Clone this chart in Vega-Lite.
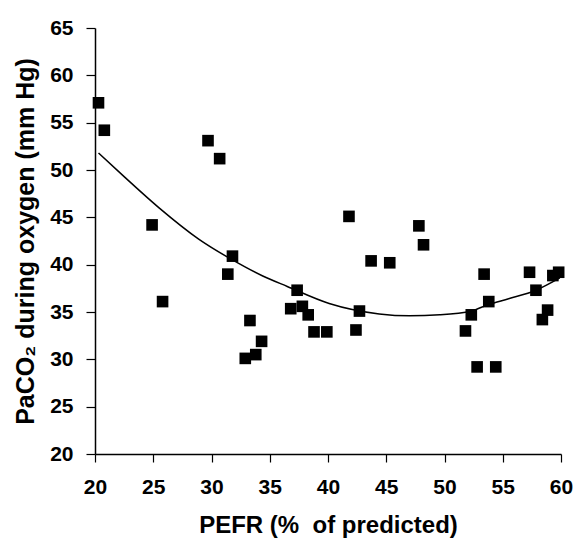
{
  "$schema": "https://vega.github.io/schema/vega-lite/v6.json",
  "width": 466,
  "height": 426,
  "autosize": {"type": "none"},
  "padding": {"left": 95, "top": 28, "right": 16, "bottom": 94},
  "background": "white",
  "config": {
    "view": {"stroke": null},
    "font": "Liberation Sans",
    "axis": {
      "grid": false,
      "domainColor": "black",
      "domainWidth": 1.5,
      "tickColor": "black",
      "tickWidth": 1.2,
      "labelColor": "black",
      "titleColor": "black",
      "labelFont": "Liberation Sans",
      "titleFont": "Liberation Sans",
      "labelFontWeight": "bold",
      "titleFontWeight": "bold",
      "labelFontSize": 21,
      "titleFontSize": 24,
      "labelFlush": false
    }
  },
  "datasets": {
    "points": [
      {"pefr": 20.3, "paco2": 57.1},
      {"pefr": 20.8, "paco2": 54.2},
      {"pefr": 29.7, "paco2": 53.1},
      {"pefr": 30.7, "paco2": 51.2},
      {"pefr": 24.9, "paco2": 44.2},
      {"pefr": 31.8, "paco2": 40.9},
      {"pefr": 31.4, "paco2": 39.0},
      {"pefr": 25.8, "paco2": 36.1},
      {"pefr": 33.3, "paco2": 34.1},
      {"pefr": 34.3, "paco2": 31.9},
      {"pefr": 33.8, "paco2": 30.5},
      {"pefr": 32.9, "paco2": 30.1},
      {"pefr": 41.8, "paco2": 45.1},
      {"pefr": 47.8, "paco2": 44.1},
      {"pefr": 48.2, "paco2": 42.1},
      {"pefr": 43.7, "paco2": 40.4},
      {"pefr": 45.3, "paco2": 40.2},
      {"pefr": 37.35, "paco2": 37.3},
      {"pefr": 36.8, "paco2": 35.35},
      {"pefr": 37.8, "paco2": 35.6},
      {"pefr": 38.3, "paco2": 34.7},
      {"pefr": 42.7, "paco2": 35.1},
      {"pefr": 38.8, "paco2": 32.9},
      {"pefr": 39.9, "paco2": 32.9},
      {"pefr": 42.4, "paco2": 33.1},
      {"pefr": 53.4, "paco2": 39.0},
      {"pefr": 57.3, "paco2": 39.2},
      {"pefr": 59.3, "paco2": 38.85},
      {"pefr": 59.8, "paco2": 39.2},
      {"pefr": 53.8, "paco2": 36.1},
      {"pefr": 57.85, "paco2": 37.3},
      {"pefr": 52.3, "paco2": 34.7},
      {"pefr": 58.85, "paco2": 35.2},
      {"pefr": 58.4, "paco2": 34.2},
      {"pefr": 51.8, "paco2": 33.0},
      {"pefr": 52.8, "paco2": 29.2},
      {"pefr": 54.4, "paco2": 29.2}
    ],
    "curve": [
      {"pefr": 20.3, "paco2": 51.8},
      {"pefr": 22.5, "paco2": 49.3},
      {"pefr": 25.5, "paco2": 46.0},
      {"pefr": 28.9, "paco2": 42.7},
      {"pefr": 31.8, "paco2": 40.5},
      {"pefr": 34.4, "paco2": 38.8},
      {"pefr": 36.5, "paco2": 37.7},
      {"pefr": 40.1, "paco2": 35.9},
      {"pefr": 44.4, "paco2": 34.8},
      {"pefr": 47.0, "paco2": 34.6},
      {"pefr": 49.6, "paco2": 34.7},
      {"pefr": 52.3, "paco2": 35.1},
      {"pefr": 53.8, "paco2": 35.8},
      {"pefr": 55.5, "paco2": 36.4},
      {"pefr": 57.85, "paco2": 37.3},
      {"pefr": 59.9, "paco2": 38.6}
    ]
  },
  "layer": [
    {
      "data": {"name": "curve"},
      "mark": {"type": "line", "color": "black", "strokeWidth": 1.5, "interpolate": "monotone"},
      "encoding": {
        "x": {"field": "pefr", "type": "quantitative"},
        "y": {"field": "paco2", "type": "quantitative"}
      }
    },
    {
      "data": {"name": "points"},
      "mark": {"type": "point", "shape": "square", "filled": true, "color": "black", "opacity": 1, "size": 135},
      "encoding": {
        "x": {
          "field": "pefr",
          "type": "quantitative",
          "scale": {"domain": [20, 60], "nice": false, "zero": false},
          "axis": {
            "title": "PEFR (% \u00a0of predicted)",
            "values": [20, 25, 30, 35, 40, 45, 50, 55, 60],
            "tickSize": 8,
            "labelPadding": 14,
            "titlePadding": 16
          }
        },
        "y": {
          "field": "paco2",
          "type": "quantitative",
          "scale": {"domain": [20, 65], "nice": false, "zero": false},
          "axis": {
            "title": "PaCO₂ during oxygen (mm Hg)",
            "titleFontSize": 25,
            "values": [20, 25, 30, 35, 40, 45, 50, 55, 60, 65],
            "tickSize": 9,
            "labelPadding": 13,
            "titlePadding": 11
          }
        }
      }
    }
  ]
}
